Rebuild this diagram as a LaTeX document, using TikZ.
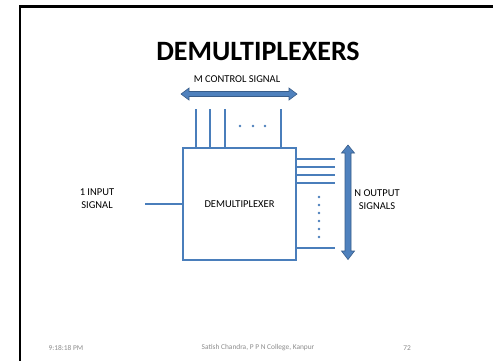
\documentclass[tikz,border=0pt]{standalone}
\usepackage{fontspec}
\setmainfont{Carlito}
\definecolor{ablue}{HTML}{4A7EBB}
\definecolor{afill}{HTML}{4F81BD}
\definecolor{aline}{HTML}{385D8A}
\definecolor{foot}{HTML}{8C8C8C}
\begin{document}
\begin{tikzpicture}[x=1pt,y=-1pt,
  wire/.style={draw=ablue,line width=1.4pt},
  lbl/.style={font=\fontsize{10.5}{12}\selectfont,align=center,inner sep=0pt},
  footlbl/.style={font=\fontsize{7.4}{8}\selectfont,text=foot,inner sep=0pt},
  fatarrow/.style={fill=afill,draw=aline,line width=0.6pt,line join=miter},
  dotm/.style={fill=ablue,draw=none}]
\useasboundingbox (0,0) rectangle (493,360);
\fill[white] (0,0) rectangle (493,360);
% slide frame
\draw[line width=2.6pt,black] (20,362) -- (20,6.5) -- (495,6.5);
% title
\node[inner sep=0pt,font=\fontsize{28}{32}\selectfont\bfseries] (title) at (258,51) {DEMULTIPLEXERS};
\node[lbl] (ctl) at (237,79) {M CONTROL SIGNAL};
% main box
\node[draw=ablue,line width=1.2pt,minimum width=113pt,minimum height=112pt,inner sep=0pt,lbl] (box) at (239.5,204) {DEMULTIPLEXER};
% horizontal double arrow
\path[fatarrow] (181,94) -- (189,88) -- (189,91.5) -- (289,91.5) -- (289,88) -- (297,94) -- (289,100) -- (289,96.5) -- (189,96.5) -- (189,100) -- cycle;
% control lines
\foreach \i/\x in {1/196,2/210,3/225,4/281}{
  \coordinate (c\i) at (\x,109);
  \draw[wire] (c\i) -- (c\i |- box.north);
}
\foreach \x in {240,253,265}{\fill[dotm] (\x,126) circle (1.4pt);}
% input
\coordinate (inp) at (145,204);
\draw[wire] (inp) -- (box.west);
\node[lbl] (inlbl) at (97,199) {1 INPUT\\[1pt]SIGNAL};
% outputs
\foreach \i/\y in {1/159,2/167,3/175,4/183,5/248}{
  \coordinate (o\i) at (335,\y);
  \draw[wire] (o\i -| box.east) -- (o\i);
}
\foreach \y in {197,205,213,221,229,237}{\fill[dotm] (319,\y) circle (1.4pt);}
% vertical double arrow
\path[fatarrow] (348,145) -- (354.5,153) -- (351,153) -- (351,251) -- (354.5,251) -- (348,259.5) -- (341.5,251) -- (345,251) -- (345,153) -- (341.5,153) -- cycle;
\node[lbl] (outlbl) at (377,200) {N OUTPUT\\[1pt]SIGNALS};
% footer
\node[footlbl] (f1) at (66,348) {9:18:18 PM};
\node[footlbl] (f2) at (258,348) {Satish Chandra, P P N College, Kanpur};
\node[footlbl] (f3) at (407,348) {72};
\end{tikzpicture}
\end{document}
